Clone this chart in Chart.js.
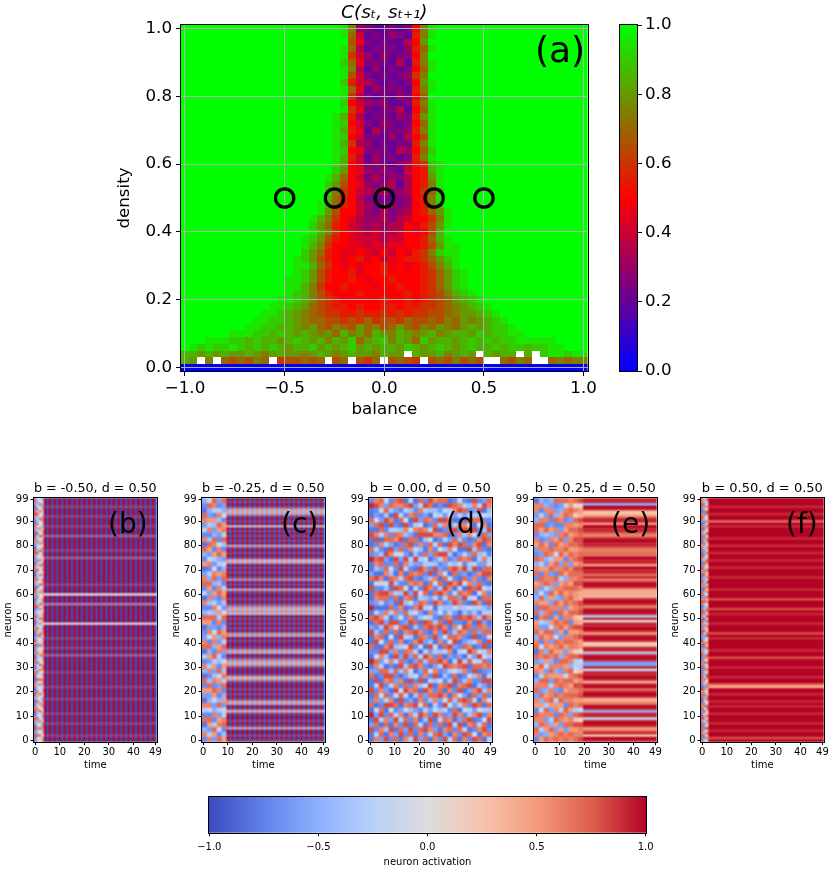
<!DOCTYPE html>
<html>
<head>
<meta charset="utf-8">
<script src="https://cdn.jsdelivr.net/npm/chart.js@4.4.1/dist/chart.umd.min.js"></script>
<style>
html,body{margin:0;padding:0;background:#fff;}
#wrap{position:relative;width:830px;height:877px;overflow:hidden;background:#fff;}
#wrap canvas{position:absolute;}
.tag{position:absolute;font-family:'DejaVu Sans',sans-serif;color:#000;line-height:1;white-space:nowrap;}
</style>
</head>
<body>
<div id="wrap">
<canvas id="cA" width="600" height="430" style="left:0px;top:0px;width:600px;height:430px"></canvas>
<canvas id="cbA" width="100" height="430" style="left:600px;top:0px;width:100px;height:430px"></canvas>
<canvas id="pb" width="163" height="310" style="left:0px;top:470px;width:163px;height:310px"></canvas>
<canvas id="pc" width="163" height="310" style="left:168px;top:470px;width:163px;height:310px"></canvas>
<canvas id="pd" width="163" height="310" style="left:335px;top:470px;width:163px;height:310px"></canvas>
<canvas id="pe" width="163" height="310" style="left:500px;top:470px;width:163px;height:310px"></canvas>
<canvas id="pf" width="163" height="310" style="left:667px;top:470px;width:163px;height:310px"></canvas>
<canvas id="cbB" width="490" height="97" style="left:180px;top:780px;width:490px;height:97px"></canvas>
<div class="tag" style="left:535px;top:32px;font-size:36px">(a)</div>
<div class="tag" style="left:108px;top:510px;font-size:28px">(b)</div>
<div class="tag" style="left:281px;top:510px;font-size:28px">(c)</div>
<div class="tag" style="left:446px;top:510px;font-size:28px">(d)</div>
<div class="tag" style="left:611px;top:510px;font-size:28px">(e)</div>
<div class="tag" style="left:786px;top:510px;font-size:28px">(f)</div>
</div>
<script>
// ================= DATA: panel (a) =================
const balance = [-1.00,-0.96,-0.92,-0.88,-0.84,-0.80,-0.76,-0.72,-0.68,-0.64,-0.60,-0.56,-0.52,-0.48,-0.44,-0.40,-0.36,-0.32,-0.28,-0.24,-0.20,-0.16,-0.12,-0.08,-0.04,0.00,0.04,0.08,0.12,0.16,0.20,0.24,0.28,0.32,0.36,0.40,0.44,0.48,0.52,0.56,0.60,0.64,0.68,0.72,0.76,0.80,0.84,0.88,0.92,0.96,1.00];
const density = [0.00,0.02,0.04,0.06,0.08,0.10,0.12,0.14,0.16,0.18,0.20,0.22,0.24,0.26,0.28,0.30,0.32,0.34,0.36,0.38,0.40,0.42,0.44,0.46,0.48,0.50,0.52,0.54,0.56,0.58,0.60,0.62,0.64,0.66,0.68,0.70,0.72,0.74,0.76,0.78,0.80,0.82,0.84,0.86,0.88,0.90,0.92,0.94,0.96,0.98,1.00];
const xTicksA = [-1.0,-0.5,0.0,0.5,1.0];
const yTicksA = [0.0,0.2,0.4,0.6,0.8,1.0];
const cbTicksA = [0.0,0.2,0.4,0.6,0.8,1.0];
// correlation levels: code index / 20  ('0'=0.00 ... 'A'=0.50 ... 'K'=1.00), '.' = no value
const corrCodes = "0123456789ABCDEFGHIJK";
const corrFill = 'K';
// rows from density 1.00 (top) to 0.00 (bottom): [first balance index, codes]
const corrRows = [
 [20,'JF6544545AFJ'],
 [20,'JE8454654BFJ'],
 [20,'KD9545447AGK'],
 [20,'JE7455546BEJ'],
 [20,'JC8646455AFK'],
 [20,'IE9555474BFJ'],
 [20,'JF7464545AEJ'],
 [20,'JD8545456CFK'],
 [20,'IB8754545AGJ'],
 [20,'JE9465554BFJ'],
 [20,'JC7545465AEK'],
 [20,'IA8656445BFJ'],
 [20,'JC9545574AEJ'],
 [19,'JHB7455465BGJ'],
 [19,'JIA8546545AEJ'],
 [19,'JHB9475556BFJ'],
 [19,'JIA8554647ADJ'],
 [19,'JHC7645455BFJ'],
 [19,'JIA9555476AEI'],
 [19,'JHB8465545BFJ'],
 [19,'JHA8565467BCIJ'],
 [19,'IGA9656548ABHJ'],
 [18,'JHEA8575657ABGJ'],
 [18,'IGDA9656747ABFJ'],
 [18,'IFCA8767567ACEI'],
 [18,'HEBA7545456ABFJ'],
 [17,'JHEBA8655656ABFI'],
 [17,'JGDAA8657567ABEGJ'],
 [16,'JHFCA97667578AACFJ'],
 [16,'IGEBA8767677A9BDGJ'],
 [16,'JHFCA9878778A9ADHK'],
 [15,'JIGDBA9888788AABEHJ'],
 [15,'JHFCAA9989899AABDGJJ'],
 [15,'IGEBA99A98A8A9BCFIJJ'],
 [14,'JIGDBA9AB9A89ABBCEGIJ'],
 [14,'JJHECA9A9AAB9A9ABDFHJ'],
 [14,'JIGDBAAB9AABAAAABCEGIJ'],
 [13,'JJIGDBAABA9AABAAABCEGIJ'],
 [13,'JJHFCAABAAA9AABAABCEGIJ'],
 [13,'JIHFDBAAABAAAAABABCDFHIJ'],
 [12,'JJIHFDCBAAAAABAABABCDEGHIJ'],
 [11,'JJIHGEDCBBABAABBABBCCDEFGHIJ'],
 [10,'JJIHGFEDCCBBCBBCBCBCCDDEFGGHIJ'],
 [9,'JJIIHGFEEDDCDCECDDCEDDEDFEGFGHIJ'],
 [8,'JJIIHHGFGEDFEDGEFDEGEDFEGFEGHGHIIJ'],
 [6,'JJJIIHIHGHGFGEHFGEHGFHGFGHFGHHGIHIIJJ'],
 [3,'JJJIIHIHHGHIHGHFHGIEGHIFHGEIGHHGHIHIHIIJJJJJ'],
 [1,'JIJIIJIHIHIHGHHIGHGHIGHGHHGIHGHIHGHIHHIHIIHIIJJ'],
 [0,'HHGHGHGGHGFGHGGFGHGFGHGGFHGG.HGGHFGHG.HGHH.H.IJJIJJ'],
 [0,'HG.F.EDEDFE.CDDEDE.DE.DCE.DEDC.DEDFDED..EDFE..EFEFF'],
 [0,'000000000000000000000000000000000000000000000000000']
];
const markerBalance = [-0.50,-0.25,0.00,0.25,0.50];
const markerDensity = [0.50,0.50,0.50,0.50,0.50];

// ================= DATA: panels (b)-(f) =================
const timeTicks = [0,10,20,30,40,49];
const neuronTicks = [0,10,20,30,40,50,60,70,80,90,99];
const actTicks = [-1.0,-0.5,0.0,0.5,1.0];
const panelBalance = ['-0.50','-0.25','0.00','0.25','0.50'];
const panelDensity = ['0.50','0.50','0.50','0.50','0.50'];
// activation codes: 'A'=-1.0, 'K'=0.0, 'U'=+1.0 (step 0.1); each string = one time column, bottom neuron first
const actCodes = "ABCDEFGHIJKLMNOPQRSTU";

// (b) b=-0.50: transient t=0..3, then two alternating states
const bEarly = [
 "DRCQDSCEQR"+"DCSQDRCEQS"+"DCRQDCSRDQ"+"CERDSCQDRC"+"QSEDCRQDSC"+"RDQECSRDCQ"+"DRSCEQDRCS"+"DQRCEDQSRC"+"DQERCSDQRD"+"CEQSRDCQDR",
 "HIRGHQIHGR"+"IHGQIHRIGH"+"QHIGHRIHQG"+"HIRHGIQHIR"+"GHIQHGRIHG"+"IQHIGRHIGQ"+"HGIRHIQGHI"+"RIHGQIHRGH"+"IGQHIRHGIQ"+"HIGRHQIHGI",
 "KLQJKRLJQK"+"JKRLKQJLKR"+"LKJQKRLJKQ"+"KRLJKQLKJR"+"JLKRQKJLQK"+"RKLJQKRJLK"+"KQJLRKLJQK"+"LJRKQLJKRL"+"KQLJRKJQLK"+"JRKLQJKRLJ",
 "PFMHPFQEMG"+"FPHMQFPEHM"+"PGMFPQHFMP"+"EPMHFQPGMF"+"PHFMQPEHMF"+"QFPMHGPFQM"+"HPFMEPQHFM"+"PGQFMHPEFQ"+"MPFHQGPMFH"+"PQFMHPEGMF"
];
const bStateA = "UUTUUUUTUU"+"UTUUUUUTUU"+"UUTUUUUUTU"+"UUUUUSUUTU"+"UUTUUUUUNU"+"UUUUUURUUU"+"MUUUTUUUUU"+"UUUUUSUUTU"+"UUUUSUUUTU"+"UUTUUUTUUU";
const bStateB = "AABAAAABAA"+"ABAAAAABAA"+"AABAAAAABA"+"AAAAACAABA"+"AABAAAAAHA"+"AAAAAADAAA"+"IAAABAAAAA"+"AAAAACAABA"+"AAAACAAABA"+"AABAAABAAA";
const bSequence = "ababababab"+"ababababab"+"ababababab"+"ababababab"+"ababab";

// (c) b=-0.25: transient t=0..9 (2 steps x 2 neurons per code), then alternating states
const cEarly = [
 "DQFCRDHQCE"+"PDRCFQDHCR"+"QEDCPRFDQC"+"HDRQECPDFR"+"CQDHEQRCDF",
 "QHEPRDIQFE"+"PRGDQHEPFR"+"DIQEPRHDGQ"+"EPRFHDQIEP"+"RGDQHPEFRI",
 "EPRHDQFEIP"+"RDQGEPHRDF"+"QPIEDRGQHE"+"PDFRQIEHPD"+"QRFEGPDHQR",
 "RDIQPEHRFD"+"QEPIRDGHQP"+"EFRDQHPIED"+"RQGEPDHFRQ"+"IDEPRGQHDE",
 "PGDRQHIEPF"+"DRHQGPIDER"+"HQPFDRIEGQ"+"PHDRQFIEPD"+"GRHQPDIFER"
];
const cStateA = "TUTUUQTUTU"+"UTPTUQQTUT"+"UTUUTQPTUU"+"TQPRTUQQTU"+"UTUQRUTUTU"+"TUPQPRTUTU"+"UTQUTURTUT"+"UTUQPTUTUT"+"QUTUTUTUPU"+"TUTQPQTUTU";
const cStateB = "BABAAFBABA"+"ABGBAFFBAB"+"ABAABFGBAA"+"BFGEBAFFBA"+"ABAFEABABA"+"BAGFGEBABA"+"ABFABAEBAB"+"ABAFGBABAB"+"FABABABAGA"+"BABFGFBABA";
const cSequence = "ababababab"+"ababababab"+"ababababab"+"ababababab";

// (d) b=0.00: irregular over the whole run (2 steps x 2 neurons per code)
const dEarly = [
 "CCSECTCRDC"+"SCCRECTCDR"+"CCSECRCTDC"+"CSCRECCTDR"+"CCSCERCCTD",
 "QHDRSEICQR"+"DHSCEQRIDC"+"SQGDRSHCEQ"+"RDISCGQREH"+"DSQCRIEDSQ",
 "ERQCHSRDEI"+"QSCDRHEQSC"+"IRDGSQECHR"+"SDIQCERSGD"+"QCHRSEDIQR",
 "SCGRQDCSHR"+"EDQSRCIGSQ"+"DCRSEHQCDR"+"SGICQRDESC"+"HRQDCSGREI",
 "DQSCERISQD"+"CHRSGDQCES"+"RIDQSCHRED"+"QCSRGIDCQS"+"ERDHSQCGRD",
 "RECQSHDRCI"+"SQEDRCHSQG"+"DCRISEQDCR"+"HSGQCDRSIE"+"CQRHDCSEQR",
 "CSRDHQECSR"+"IDQCGSREDH"+"QSCRDIEQSC"+"GRDHQSCEIR"+"DSQGCRHDQS",
 "QDESRCIQDH"+"SRCEQGDSRI"+"CHQSEDRCGQ"+"SIDRCHQSED"+"RCGQSIDHRC",
 "HRSCDQGREC"+"QDSHIRCEQS"+"DGRCSQHDIR"+"ECQSRDGHCQ"+"SREIDCQGSH",
 "SCDRQHESCG"+"RQDICSERHD"+"QCSGRDIQEC"+"SHRDQCESGI"+"DRCQHSRDEC",
 "EQRHCSDIQR"+"CGSDEQRHCI"+"SRQDCGESRH"+"IDQCRSEHDG"+"QCSRIEDQHR",
 "RDSCGQHRDE"+"SICQRDGSHC"+"EQDRSICHQG"+"RSCEDQHIRC"+"DGSQCREHSD",
 "CHQRSDECGR"+"QSHDICRQES"+"GDCSRHQIDE"+"CQRGSDHCEQ"+"RISHDQCGRS",
 "QREDCSIHQR"+"DCGSQERDHI"+"CSQRGDECSH"+"RDIQCSGERD"+"HCQSRDIGCQ",
 "DSCRHQGDES"+"RQICDHSRGC"+"QEDSRCIHQD"+"SGRCQEDHSI"+"RDQCGSHEDR",
 "SEQCRDHSIQ"+"CRDGESQCHR"+"DISQCREGDH"+"QSCRIDEQSG"+"CHRDQSEICR",
 "HCRSQEDIRC"+"QSGDHRCEQS"+"IRDCSQHGER"+"DQSICRHDGQ"+"SECRDQIHSC",
 "RQDHCSREGQ"+"DCSRIQHDCE"+"SRGQDCEISR"+"HCQDRSGECI"+"QRDSHCEQRD",
 "CDRSEQCHRI"+"SQDCGRSEHD"+"CQRIDSCGQE"+"RHSCDQIREC"+"SGQDRCHSQI",
 "QSHCRDIQSE"+"CRGDQSHCIR"+"EDQSCRGHDS"+"QCIRESDQHC"+"RDGSQCERHD",
 "DRCQSGHDRC"+"ESQIDCRHSQ"+"GCDRQSEICH"+"RSQDCGHRES"+"DCQRISHDGC",
 "SIDRCQESHR"+"QCDGSRIEQC"+"HSRDCQGHSI"+"CREQDSHCRG"+"QDISCRHEQS",
 "RCQHDSIRCE"+"SGDQCRHSID"+"QCERSGDHQC"+"ISRDQCEHGR"+"SQCDIRGSHD",
 "CQSRIDHCQR"+"GESCDQRIHS"+"CDRQESHGCR"+"QIDCSREQHD"+"CSRGQDICSE",
 "HRDCSQGRID"+"QCSHERDGQC"+"SIRDCQHESR"+"DGCQSRIHDC"+"QRESCDHGQR"
];

// (e) b=0.25: transient t=0..19 (2 steps x 2 neurons per code), then one fixed state
const eEarly = [
 "DQRFQRDPQE"+"RQFDQPERCR"+"QFRQPCRDQF"+"EQPDRQFRDE"+"PQDRRFEQQC",
 "PEHRQQIPFR"+"EQRHPRFQQI"+"DRPEHQFRPR"+"IEQRDPHQEQ"+"RDFPRQHDQF",
 "RFPQEQRHQP"+"FQRQEIPRFQ"+"QPREGRQRPF"+"EHRQQPEFRQ"+"PEGRDQEQFE",
 "QPRFHQEPRQ"+"QHEPRQFQRP"+"EQRIPDRQEP"+"RFQQERPHQR"+"DQFPEDRQEF",
 "RQEPRDQPHR"+"EQRPFQDRPQ"+"RIEQRPDQRF"+"PQERDQRPIQ"+"RPEQDRFEDR",
 "QRPEQRHPRQ"+"DRQPEQRFPR"+"QEPRQDRQPE"+"RQPHRQEPRQ"+"PRQEDQPFER",
 "RQERPQRDQR"+"PQRIQPRQEP"+"RQDPRQPERQ"+"PRQFPRQDPR"+"QERPQDRQIR",
 "QRPRQEPRQR"+"QPRQRFQRPQ"+"RQPRDQRPQR"+"QRPQRQEQRP"+"RQPRQEQRPQ",
 "RQPSNRHQPR"+"QSPRLIHRMQ"+"QRPSPNRQRP"+"PRSQRSPRQP"+"RSQRPRMQLR",
 "SQQSMSIRPS"+"RSQSNHISLP"+"PSQSOMSRSO"+"OQSRRSQSRQ"+"SSRSQSOPMS"
];
const eStateA = "TUNTRPTUTI"+"TTFTURPOTU"+"TRUTOTUTTI"+"TEETUTHTTN"+"MTUTPTUTTL"+"THTUTQTUTO"+"OOPTUTQTRT"+"TUPTTURRQR"+"TTUTQRTTUP"+"TTQNNTUFTT";
const eSequence = "aaaaaaaaaa"+"aaaaaaaaaa"+"aaaaaaaaaa";

// (f) b=0.50: transient t=0..2, then one fixed state
const fEarly = [
 "RDSQCRSDQS"+"CRDSQRCSDR"+"QSCRDQSRCD"+"SRQCDSRQDC"+"RSDQCSRDQS"+"CQRSDCRSQD"+"SRCDQSRDCQ"+"RSDCQRSCDR"+"QDSRCQDSRC"+"DRSQCDRSQR",
 "HEQGHRFEHQ"+"GHRIEQHGFR"+"HQEGHRIFHQ"+"EGRHQFGHER"+"QHGEIRHQGF"+"RHEQGFHRQE"+"HGRQEHFGRQ"+"EHQRGHEFQH"+"GRHEQGHRFE"+"QHGERHQFGH",
 "MQLRMSLNQM"+"RLMQSMLRQN"+"LMRQMLSRMQ"+"NLRMQSLMRL"+"QMLSRMNQLR"+"MSLQRMLQNR"+"LQMRLSMQLN"+"RMLQSNMRLQ"+"MLRQMSLNRM"+"QLMRSLQMNR"
];
const fStateA = "USUUTUUTUU"+"UTUUTUTUUT"+"UUORUUTUUU"+"TUUUSUUTUU"+"UUTUSUUUTU"+"UUTUSUUUSU"+"UUTUUUUTUU"+"UTUUTUUTUU"+"TUUTUUUUTU"+"RUUTUUTUUU";
const fSequence = "aaaaaaaaaa"+"aaaaaaaaaa"+"aaaaaaaaaa"+"aaaaaaaaaa"+"aaaaaaa";

// ================= RENDERING =================
const FONT = "'DejaVu Sans', sans-serif";
Chart.defaults.font.family = FONT;
Chart.defaults.color = '#000';

function fmt1(v){ return (v < 0 ? '\u2212' : '') + Math.abs(v).toFixed(1); }

function corrColor(v){
  let r, g, b;
  if (v <= 0.5) { r = 510*v; g = 0; b = 255 - 510*v; }
  else { r = 510 - 510*v; g = 510*v - 255; b = 0; }
  return 'rgb(' + Math.round(r) + ',' + Math.round(g) + ',' + Math.round(b) + ')';
}
const CW_STOPS = [[-1,59,76,192],[-0.75,98,130,234],[-0.5,141,176,254],[-0.25,184,208,249],[0,221,221,221],[0.25,245,196,173],[0.5,244,154,123],[0.75,222,96,77],[1,180,4,38]];
function coolwarm(v){
  v = Math.max(-1, Math.min(1, v));
  for (let i = 1; i < CW_STOPS.length; i++) {
    if (v <= CW_STOPS[i][0]) {
      const a = CW_STOPS[i-1], b = CW_STOPS[i];
      const f = (v - a[0]) / (b[0] - a[0]);
      return 'rgb(' + Math.round(a[1]+f*(b[1]-a[1])) + ',' + Math.round(a[2]+f*(b[2]-a[2])) + ',' + Math.round(a[3]+f*(b[3]-a[3])) + ')';
    }
  }
  return 'rgb(180,4,38)';
}
function actValue(ch){ return actCodes.indexOf(ch)/10 - 1; }

function fillCell(ctx, xs, ys, xa, xb, ya, yb, color){
  const px0 = Math.round(xs.getPixelForValue(xa)), px1 = Math.round(xs.getPixelForValue(xb));
  const py0 = Math.round(ys.getPixelForValue(yb)), py1 = Math.round(ys.getPixelForValue(ya));
  ctx.fillStyle = color;
  ctx.fillRect(Math.min(px0,px1), Math.min(py0,py1), Math.abs(px1-px0), Math.abs(py1-py0));
}

const framePlugin = {
  id: 'frame',
  afterDraw(chart){
    const a = chart.chartArea, c = chart.ctx;
    c.save();
    c.strokeStyle = '#000'; c.lineWidth = 1;
    c.strokeRect(Math.round(a.left) - 0.5, Math.round(a.top) - 0.5, Math.round(a.right) - Math.round(a.left) + 1, Math.round(a.bottom) - Math.round(a.top) + 1);
    c.restore();
  }
};

const heatAPlugin = {
  id: 'heatA',
  beforeDraw(chart){
    const {ctx, chartArea: a} = chart;
    const xs = chart.scales.x, ys = chart.scales.y;
    ctx.save();
    ctx.beginPath(); ctx.rect(a.left, a.top, a.width, a.height); ctx.clip();
    corrRows.forEach((row, ri) => {
      const d = density[density.length - 1 - ri];
      const start = row[0], codes = row[1];
      for (let k = 0; k < balance.length; k++) {
        const ch = (k >= start && k < start + codes.length) ? codes[k - start] : corrFill;
        if (ch === '.') continue;
        const v = corrCodes.indexOf(ch) / 20;
        fillCell(ctx, xs, ys, balance[k] - 0.02, balance[k] + 0.02, d - 0.01, d + 0.01, corrColor(v));
      }
    });
    ctx.restore();
  }
};

function gradientPlugin(cmap, lo, hi, axis){
  return {
    id: 'grad',
    beforeDraw(chart){
      const {ctx, chartArea: a} = chart;
      const s = chart.scales[axis];
      const N = 256;
      ctx.save();
      for (let i = 0; i < N; i++) {
        const v0 = lo + (hi - lo) * i / N, v1 = lo + (hi - lo) * (i + 1) / N;
        ctx.fillStyle = cmap((v0 + v1) / 2);
        const p0 = Math.round(s.getPixelForValue(v0)), p1 = Math.round(s.getPixelForValue(v1));
        if (axis === 'y') ctx.fillRect(a.left, p1, a.width, Math.max(1, p0 - p1));
        else ctx.fillRect(p0, a.top, Math.max(1, p1 - p0), a.height);
      }
      ctx.restore();
    }
  };
}

function buildCells(early, dt, dn, sequence, states){
  const cells = [];
  early.forEach((col, ci) => {
    for (let i = 0; i < col.length; i++) {
      cells.push({t0: ci*dt, t1: (ci+1)*dt, n0: i*dn, n1: (i+1)*dn, v: actValue(col[i])});
    }
  });
  const tStart = early.length * dt;
  for (let j = 0; j < sequence.length && tStart + j <= timeTicks[timeTicks.length-1]; j++) {
    const col = states[sequence[j]];
    for (let n = 0; n < col.length; n++) {
      cells.push({t0: tStart + j, t1: tStart + j + 1, n0: n, n1: n + 1, v: actValue(col[n])});
    }
  }
  return cells;
}

// cells are painted at one unit per time step / neuron, then placed over the
// scale extent with smooth resampling (like an interpolated image display)
function cellPlugin(cells){
  return {
    id: 'cells',
    beforeDraw(chart){
      const {ctx, chartArea: a} = chart;
      const xs = chart.scales.x, ys = chart.scales.y;
      const nT = timeTicks[timeTicks.length-1] + 1, nN = neuronTicks[neuronTicks.length-1] + 1;
      const off = document.createElement('canvas');
      off.width = nT; off.height = nN;
      const o = off.getContext('2d');
      for (const c of cells) {
        o.fillStyle = coolwarm(c.v);
        o.fillRect(c.t0, nN - c.n1, c.t1 - c.t0, c.n1 - c.n0);
      }
      const l = xs.getPixelForValue(-0.5), r = xs.getPixelForValue(nT - 0.5);
      const t = ys.getPixelForValue(nN - 0.5), b = ys.getPixelForValue(-0.5);
      ctx.save();
      ctx.beginPath(); ctx.rect(a.left, a.top, a.width, a.height); ctx.clip();
      ctx.imageSmoothingEnabled = true;
      ctx.imageSmoothingQuality = 'high';
      ctx.drawImage(off, l, t, r - l, b - t);
      ctx.restore();
    }
  };
}

// ---------- panel (a) ----------
const fA = {family: FONT, size: 16.7};
new Chart(document.getElementById('cA'), {
  type: 'scatter',
  data: {datasets: [{
    data: markerBalance.map((b, i) => ({x: b, y: markerDensity[i]})),
    pointStyle: 'circle', pointRadius: 9.2, pointHoverRadius: 9.2, pointBorderWidth: 3.2,
    pointBorderColor: '#000', pointBackgroundColor: 'rgba(0,0,0,0)'
  }]},
  options: {
    responsive: false, animation: false, events: [],
    layout: {padding: {left: 115, right: 6, top: 2, bottom: 10}},
    plugins: {
      legend: {display: false}, tooltip: {enabled: false},
      title: {display: true, fullSize: false, text: 'C(s\u209C, s\u209C\u208A\u2081)', color: '#000',
        font: {family: FONT, size: 18.5, style: 'italic', weight: 'normal', lineHeight: 1.2},
        padding: {top: 0, bottom: 0.8}}
    },
    scales: {
      x: {type: 'linear', min: -1.02, max: 1.02,
        afterBuildTicks: s => { s.ticks = xTicksA.map(v => ({value: v})); },
        afterFit: s => { s.height = 49; },
        ticks: {color: '#000', font: fA, padding: 3, maxRotation: 0, autoSkip: false, callback: v => fmt1(v)},
        grid: {color: '#b0b0b0', lineWidth: 1, tickColor: '#000', tickLength: 5, tickWidth: 1},
        border: {display: false},
        title: {display: true, text: 'balance', color: '#000', font: fA, padding: 0}},
      y: {type: 'linear', min: -0.01, max: 1.01,
        afterBuildTicks: s => { s.ticks = yTicksA.map(v => ({value: v})); },
        afterFit: s => { s.width = 66; },
        ticks: {color: '#000', font: fA, padding: 4, autoSkip: false, callback: v => fmt1(v)},
        grid: {color: '#b0b0b0', lineWidth: 1, tickColor: '#000', tickLength: 5, tickWidth: 1},
        border: {display: false},
        title: {display: true, text: 'density', color: '#000', font: fA, padding: 0}}
    }
  },
  plugins: [heatAPlugin, framePlugin]
});

new Chart(document.getElementById('cbA'), {
  type: 'scatter',
  data: {datasets: []},
  options: {
    responsive: false, animation: false, events: [],
    layout: {padding: {left: 20, right: 0, top: 25, bottom: 59}},
    plugins: {legend: {display: false}, tooltip: {enabled: false}},
    scales: {
      x: {display: false, min: 0, max: 1},
      y: {position: 'right', min: 0, max: 1,
        afterBuildTicks: s => { s.ticks = cbTicksA.map(v => ({value: v})); },
        afterFit: s => { s.width = 63; },
        ticks: {color: '#000', font: fA, padding: 3, autoSkip: false, callback: v => fmt1(v)},
        grid: {drawOnChartArea: false, tickColor: '#000', tickLength: 5, tickWidth: 1},
        border: {display: false}}
    }
  },
  plugins: [gradientPlugin(corrColor, 0, 1, 'y'), framePlugin]
});

// ---------- panels (b)-(f) ----------
const fS = {family: FONT, size: 10};
const panelCells = [
  buildCells(bEarly, 1, 1, bSequence, {a: bStateA, b: bStateB}),
  buildCells(cEarly, 2, 2, cSequence, {a: cStateA, b: cStateB}),
  buildCells(dEarly, 2, 2, '', {}),
  buildCells(eEarly, 2, 2, eSequence, {a: eStateA}),
  buildCells(fEarly, 1, 1, fSequence, {a: fStateA})
];
['pb','pc','pd','pe','pf'].forEach((id, i) => {
  new Chart(document.getElementById(id), {
    type: 'scatter',
    data: {datasets: []},
    options: {
      responsive: false, animation: false, events: [],
      layout: {padding: {left: 0, right: 6.3, top: 10, bottom: 9}},
      plugins: {
        legend: {display: false}, tooltip: {enabled: false},
        title: {display: true, fullSize: false, text: 'b = ' + panelBalance[i] + ', d = ' + panelDensity[i], color: '#000',
          font: {family: FONT, size: 13, weight: 'normal', lineHeight: 1.2}, padding: {top: 1.2, bottom: 1.5}}
      },
      scales: {
        x: {type: 'linear', min: -0.5, max: 49.5,
          afterBuildTicks: s => { s.ticks = timeTicks.map(v => ({value: v})); },
          afterFit: s => { s.height = 29.3; },
          ticks: {color: '#000', font: fS, padding: 1, maxRotation: 0, autoSkip: false},
          grid: {drawOnChartArea: false, tickColor: '#000', tickLength: 3.5, tickWidth: 1},
          border: {display: false},
          title: {display: true, text: 'time', color: '#000', font: fS, padding: 0}},
        y: {type: 'linear', min: -0.5, max: 99.5,
          afterBuildTicks: s => { s.ticks = neuronTicks.map(v => ({value: v})); },
          afterFit: s => { s.width = 34; },
          ticks: {color: '#000', font: fS, padding: 2, autoSkip: false},
          grid: {drawOnChartArea: false, tickColor: '#000', tickLength: 3.5, tickWidth: 1},
          border: {display: false},
          title: {display: true, text: 'neuron', color: '#000', font: fS, padding: {top: 2, bottom: 0}}}
      }
    },
    plugins: [cellPlugin(panelCells[i]), framePlugin]
  });
});

// ---------- activation colorbar ----------
new Chart(document.getElementById('cbB'), {
  type: 'scatter',
  data: {datasets: []},
  options: {
    responsive: false, animation: false, events: [],
    layout: {padding: {left: 29.3, right: 24.3, top: 16.7, bottom: 8.5}},
    plugins: {legend: {display: false}, tooltip: {enabled: false}},
    scales: {
      y: {display: false, min: 0, max: 1},
      x: {type: 'linear', min: -1, max: 1,
        afterBuildTicks: s => { s.ticks = actTicks.map(v => ({value: v})); },
        afterFit: s => { s.height = 35.8; },
        ticks: {color: '#000', font: fS, padding: 5, maxRotation: 0, autoSkip: false, callback: v => fmt1(v)},
        grid: {drawOnChartArea: false, tickColor: '#000', tickLength: 3.5, tickWidth: 1},
        border: {display: false},
        title: {display: true, text: 'neuron activation', color: '#000', font: fS, padding: 0}}
    }
  },
  plugins: [gradientPlugin(coolwarm, -1, 1, 'x'), framePlugin]
});
</script>
</body>
</html>
